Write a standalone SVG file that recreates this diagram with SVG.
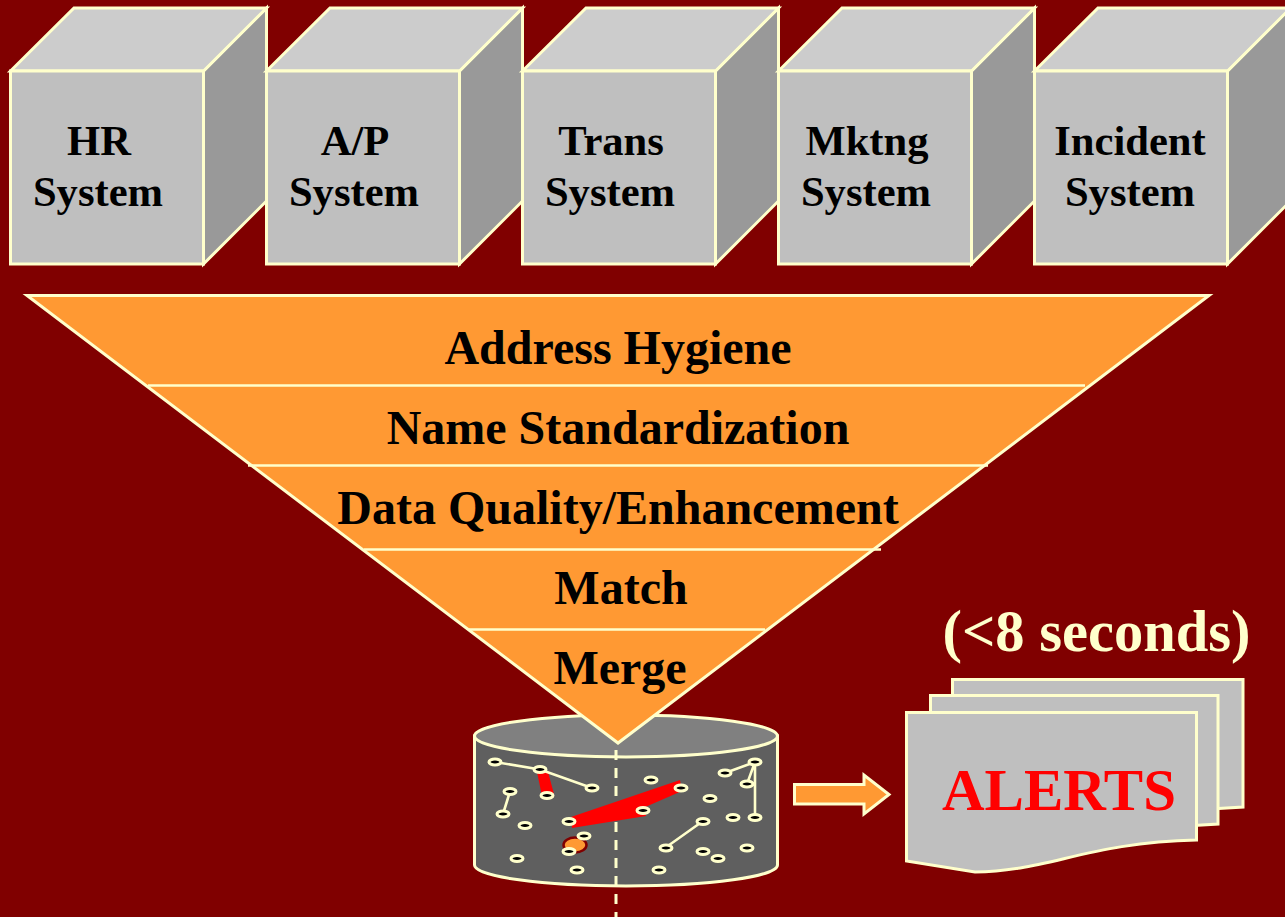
<svg xmlns="http://www.w3.org/2000/svg" width="1285" height="917" viewBox="0 0 1285 917">
<style>
text{font-family:"Liberation Serif","Times New Roman",serif;font-weight:bold;text-anchor:middle;fill:#000}
.s{font-size:42.600px}.f{font-size:48px}
.e{stroke:#ffffcc;stroke-width:3;stroke-linejoin:miter}
.front{fill:#bfbfbf}.top{fill:#cccccc}.side{fill:#999999}
.o{fill:#ff9933}.doc{fill:#bfbfbf}
.l{stroke:#ffffcc;stroke-width:2.600;fill:none}
.n{fill:#000;stroke:#ffffcc;stroke-width:3}
</style>
<defs>
<g id="cube">
<path class="e side" d="M203.500 264L266.500 201V8L203.500 71z"/>
<path class="e top" d="M10.500 71L74 8H266.500L203.500 71z"/>
<rect class="e front" x="10.500" y="71" width="193" height="193"/>
</g>
<ellipse id="dot" class="n" rx="6" ry="3"/>
</defs>
<rect width="1285" height="917" fill="#800000"/>
<g id="node-hr"><use href="#cube"/><text class="s" x="99" y="155">HR</text><text class="s" x="98" y="206">System</text></g>
<g id="node-ap"><use href="#cube" x="256"/><text class="s" x="355" y="155">A/P</text><text class="s" x="354" y="206">System</text></g>
<g id="node-trans"><use href="#cube" x="512"/><text class="s" x="611" y="155">Trans</text><text class="s" x="610" y="206">System</text></g>
<g id="node-mktng"><use href="#cube" x="768"/><text class="s" x="867" y="155">Mktng</text><text class="s" x="866" y="206">System</text></g>
<g id="node-incident"><use href="#cube" x="1024"/><text class="s" x="1130" y="155">Incident</text><text class="s" x="1130" y="206">System</text></g>
<g id="node-database">
<path class="e" fill="#5f5f5f" d="M474.500 736V865A151.500 21 0 0 0 777.500 865V736z"/>
<ellipse class="e" fill="#808080" cx="626" cy="736" rx="151.500" ry="21"/>
<path d="M616 750V917" stroke="#ffffcc" stroke-width="3" stroke-dasharray="10 8" fill="none"/>
<path fill="#ff0000" d="M537 772L548 772L554 794L542 796z"/>
<path fill="#ff0000" d="M571 817L680 780L682 791L643 808L646 816L572 828z"/>
<ellipse cx="575" cy="845" rx="11.500" ry="7.500" fill="#ff9933" stroke="#800000" stroke-width="2.500"/>
<path class="l" d="M495 762L540 769.500L592 788M510 791.500L503 814M665 848L703 821M725 773L755 762L747 784M755 762V817"/>
<use href="#dot" x="495" y="762"/><use href="#dot" x="540" y="769.500"/><use href="#dot" x="592" y="788"/><use href="#dot" x="547" y="795.500"/>
<use href="#dot" x="510" y="791.500"/><use href="#dot" x="503" y="814"/><use href="#dot" x="525" y="825.500"/><use href="#dot" x="569" y="821.500"/>
<use href="#dot" x="584" y="836"/><use href="#dot" x="569" y="851.500"/><use href="#dot" x="517" y="858.500"/><use href="#dot" x="577" y="870"/>
<use href="#dot" x="651" y="780"/><use href="#dot" x="681" y="788"/><use href="#dot" x="643" y="810.500"/><use href="#dot" x="710" y="798.500"/>
<use href="#dot" x="703" y="821.500"/><use href="#dot" x="733" y="817.500"/><use href="#dot" x="755" y="817.500"/><use href="#dot" x="755" y="762"/>
<use href="#dot" x="725" y="773"/><use href="#dot" x="747" y="784"/><use href="#dot" x="666" y="848"/><use href="#dot" x="703" y="851.500"/>
<use href="#dot" x="718" y="858.500"/><use href="#dot" x="747" y="848"/><use href="#dot" x="659" y="870"/>
</g>
<g id="node-funnel">
<path class="e o" d="M27 295.500H1209L618 743z"/>
<path class="l" d="M148 385.500H1085M248 465.500H988M364 549.500H881M469 629.500H765"/>
<text class="f" x="618" y="364">Address Hygiene</text>
<text class="f" x="618" y="444">Name Standardization</text>
<text class="f" x="618" y="524">Data Quality/Enhancement</text>
<text class="f" x="621" y="604">Match</text>
<text class="f" x="620" y="684">Merge</text>
</g>
<g id="connectors">
<path class="e o" d="M794.500 784.500H864V775L889 794.500L864 814V804H794.500z"/>
</g>
<g id="node-alerts">
<path class="e doc" d="M952.500 679.500H1243V807L1210 809H952.500z"/>
<path class="e doc" d="M930.500 695.500H1218V824L1185 826H930.500z"/>
<path class="e doc" d="M906.500 712.500H1196.500V840C1090 842 1045 872 975 872L906.500 861z"/>
<text x="1059" y="810" font-size="59px" style="fill:#ff0000">ALERTS</text>
</g>
<text id="label-time" x="1096.500" y="651" font-size="58.500px" style="fill:#ffffcc">(&lt;8 seconds)</text>
</svg>
